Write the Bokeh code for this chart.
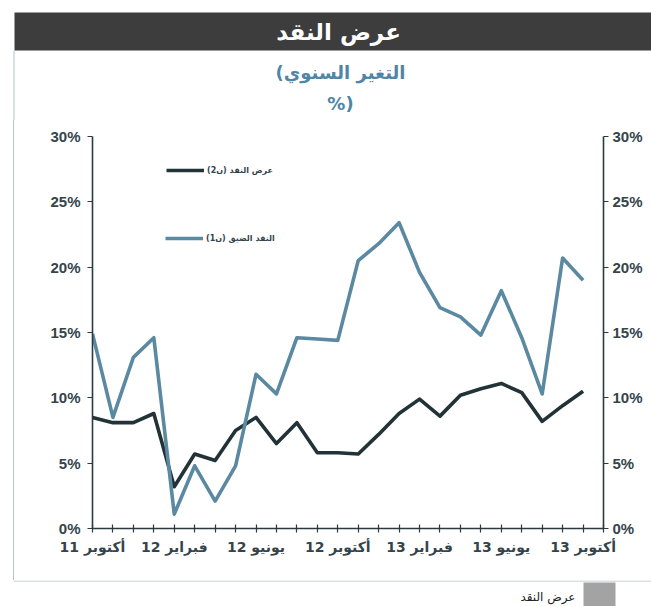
from bokeh.plotting import figure
from bokeh.models import (Range1d, LinearAxis, FixedTicker, Legend, LegendItem,
                          Label, BoxAnnotation, PrintfTickFormatter)
from bokeh.layouts import column
from bokeh.embed import file_html
from bokeh.resources import INLINE

# ---------------- data ----------------
months = ["أكتوبر 11", "نوفمبر 11", "ديسمبر 11", "يناير 12", "فبراير 12", "مارس 12",
          "أبريل 12", "مايو 12", "يونيو 12", "يوليو 12", "أغسطس 12", "سبتمبر 12",
          "أكتوبر 12", "نوفمبر 12", "ديسمبر 12", "يناير 13", "فبراير 13", "مارس 13",
          "أبريل 13", "مايو 13", "يونيو 13", "يوليو 13", "أغسطس 13", "سبتمبر 13",
          "أكتوبر 13"]
m2 = [8.5, 8.1, 8.1, 8.8, 3.2, 5.7, 5.2, 7.5, 8.5, 6.5, 8.1, 5.8, 5.8,
      5.7, 7.2, 8.8, 9.9, 8.6, 10.2, 10.7, 11.1, 10.4, 8.2, 9.4, 10.5]
m1 = [14.9, 8.5, 13.1, 14.6, 1.1, 4.8, 2.1, 4.8, 11.8, 10.3, 14.6, 14.5, 14.4,
      20.5, 21.8, 23.4, 19.6, 16.9, 16.2, 14.8, 18.2, 14.6, 10.3, 20.7, 19.0]
name_m2 = "عرض النقد (ن2)"
name_m1 = "النقد الضيق (ن1)"
title_text = "عرض النقد"
subtitle_1 = "(التغير السنوي"
subtitle_2 = "%)"
footer_text = "عرض النقد"
y_ticks = [0, 5, 10, 15, 20, 25, 30]
label_step = 4

x = list(range(len(months)))
n_slots = len(months) + 1

W = 651
HEAD_H = 120
DARK = "#223338"
LIGHT = "#5a89a1"
AXIS = "#2a3a40"
TXT = "#34444b"
SUB = "#4f86a6"
FRAME = "#b5c3cc"
AR_FONT = "DejaVu Sans"
LAT_FONT = "Liberation Sans"

# ---------------- header (title bar + subtitle) ----------------
head = figure(width=W, height=HEAD_H, x_range=Range1d(0, W), y_range=Range1d(0, HEAD_H),
              x_axis_type=None, y_axis_type=None, toolbar_location=None,
              output_backend="svg", min_border=0, frame_align=False,
              background_fill_color="white", border_fill_color="white",
              outline_line_color=None)
head.add_layout(BoxAnnotation(left=14, right=W, top=HEAD_H - 12, bottom=HEAD_H - 50,
                              fill_color="#3d3d3d", fill_alpha=1, line_alpha=0))
head.add_layout(BoxAnnotation(left=13, right=14, top=HEAD_H - 50, bottom=0,
                              fill_color=FRAME, fill_alpha=1, line_alpha=0))
head.add_layout(Label(x=338, y=HEAD_H - 31, text=title_text, text_align="center",
                      text_baseline="middle", text_color="white",
                      text_font=AR_FONT, text_font_size="23px",
                      text_font_style="bold"))
for txt, yy in [(subtitle_1, HEAD_H - 72), (subtitle_2, HEAD_H - 103)]:
    head.add_layout(Label(x=340, y=yy, text=txt, text_align="center",
                          text_baseline="middle", text_color=SUB,
                          text_font=AR_FONT, text_font_size="18px",
                          text_font_style="bold"))

# ---------------- main chart ----------------
p = figure(width=W, height=606 - HEAD_H - 26, x_range=Range1d(0, n_slots - 1),
           y_range=Range1d(y_ticks[0], y_ticks[-1]),
           toolbar_location=None, output_backend="svg", frame_align=False,
           min_border_left=92, min_border_right=48, min_border_top=136 - HEAD_H,
           min_border_bottom=52, outline_line_color=None,
           background_fill_color="white", border_fill_color="white",
           border_fill_alpha=0,
           styles={"background-color": "white",
                   "background-image": f"linear-gradient({FRAME}, {FRAME})",
                   "background-size": "1px 100%",
                   "background-position": "13px 0",
                   "background-repeat": "no-repeat"})
p.xgrid.visible = False
p.ygrid.visible = False

r2 = p.line(x, m2, line_color=DARK, line_width=3.6, line_join="round")
r1 = p.line(x, m1, line_color=LIGHT, line_width=3.6, line_join="round")

# x axis
xa = p.xaxis[0]
xa.ticker = FixedTicker(ticks=list(range(n_slots)))
xa.major_label_overrides = {i: (months[i] if (i < len(months) and i % label_step == 0) else "")
                            for i in range(n_slots)}
xa.major_tick_in = 4
xa.major_tick_out = 4
xa.minor_tick_line_color = None
xa.axis_line_color = AXIS
xa.axis_line_width = 1.6
xa.major_tick_line_color = AXIS
xa.major_tick_line_width = 1.2
xa.major_label_text_font = AR_FONT
xa.major_label_text_font_size = "14px"
xa.major_label_text_font_style = "bold"
xa.major_label_text_color = TXT
xa.major_label_standoff = 6

def style_y(ax):
    ax.ticker = FixedTicker(ticks=y_ticks)
    ax.formatter = PrintfTickFormatter(format="%d%%")
    ax.major_tick_in = 0
    ax.major_tick_out = 5
    ax.minor_tick_line_color = None
    ax.axis_line_color = AXIS
    ax.axis_line_width = 1.6
    ax.major_tick_line_color = AXIS
    ax.major_tick_line_width = 1.2
    ax.major_label_text_font = LAT_FONT
    ax.major_label_text_font_size = "15px"
    ax.major_label_text_font_style = "bold"
    ax.major_label_text_color = TXT
    ax.major_label_standoff = 7

style_y(p.yaxis[0])
ry = LinearAxis()
style_y(ry)
ry.major_label_standoff = 4
p.add_layout(ry, "right")

# legends
def make_legend(label, rend, loc):
    return Legend(items=[LegendItem(label=label, renderers=[rend])], location=loc,
                  glyph_width=38, glyph_height=14, label_text_font=AR_FONT,
                  label_text_font_size="8px", label_text_font_style="bold",
                  label_text_color=TXT, label_standoff=3, padding=0, margin=0,
                  spacing=0, border_line_alpha=0, background_fill_alpha=0)

p.add_layout(make_legend(name_m2, r2, (74, 351)))
p.add_layout(make_legend(name_m1, r1, (73, 283)))

# ---------------- footer ----------------
foot = figure(width=W, height=26, x_range=Range1d(0, W), y_range=Range1d(0, 26),
              x_axis_type=None, y_axis_type=None, toolbar_location=None,
              output_backend="svg", min_border=0, frame_align=False,
              background_fill_color="white", border_fill_color="white",
              outline_line_color=None)
foot.add_layout(BoxAnnotation(left=13, right=W, top=26, bottom=25,
                              fill_color=FRAME, fill_alpha=1, line_alpha=0))
foot.add_layout(BoxAnnotation(left=583, right=615, top=24, bottom=0,
                              fill_color="#a3a3a3", fill_alpha=1, line_alpha=0))
foot.add_layout(Label(x=575, y=10, text=footer_text, text_align="right",
                      text_baseline="middle", text_color="#222222",
                      text_font=AR_FONT, text_font_size="12px"))

layout = column(head, p, foot, spacing=0)
open("out.html", "w").write(file_html(layout, INLINE))
